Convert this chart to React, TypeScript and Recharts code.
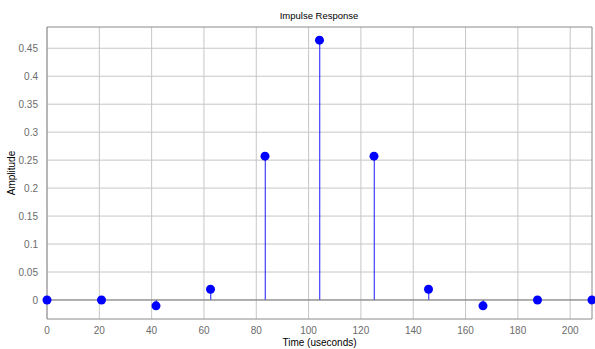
import React from 'react';
import {
  ComposedChart,
  Bar,
  Scatter,
  XAxis,
  YAxis,
  CartesianGrid,
  ReferenceLine,
  ReferenceArea,
} from 'recharts';

// sample times (useconds) and the filter's impulse response
const times = [0, 20.833, 41.667, 62.5, 83.333, 104.167, 125, 145.833, 166.667, 187.5, 208.333];
const amplitudes = [0, 0, -0.0105, 0.0192, 0.2571, 0.4645, 0.2571, 0.0192, -0.0105, 0, 0];

const xTicks = [0, 20, 40, 60, 80, 100, 120, 140, 160, 180, 200];
const yTicks = [0, 0.05, 0.1, 0.15, 0.2, 0.25, 0.3, 0.35, 0.4, 0.45];

const data = times.map((t, i) => ({ t, amp: amplitudes[i] }));

const X_MAX = 208.333;
const Y_MIN = -0.034;
const Y_MAX = 0.488;

const font = '"Liberation Sans", Arial, sans-serif';

const Marker = (props: any) => {
  const { cx, cy } = props;
  if (cx == null || cy == null) return null;
  return <circle cx={cx} cy={cy} r={4.5} fill="#0000ff" />;
};

export default function App() {
  return (
    <div style={{ position: 'absolute', left: 0, top: 0, width: 595, height: 349, background: '#fff' }}>
      <ComposedChart
        width={595}
        height={349}
        data={data}
        margin={{ top: 27, right: 3, bottom: 0, left: 0 }}
      >
        <CartesianGrid stroke="#c6c6c6" strokeWidth={1} horizontalValues={yTicks} verticalValues={xTicks} />
        <XAxis
          dataKey="t"
          type="number"
          domain={[0, X_MAX]}
          ticks={xTicks}
          axisLine={false}
          tickLine={false}
          tick={{ fill: '#6b6b6b', fontSize: 10, fontFamily: font }}
          tickMargin={2}
          height={30}
          label={{
            value: 'Time (useconds)',
            position: 'insideBottom',
            offset: 3,
            fill: '#000',
            fontSize: 10,
            fontFamily: font,
          }}
        />
        <YAxis
          type="number"
          domain={[Y_MIN, Y_MAX]}
          ticks={yTicks}
          allowDataOverflow
          axisLine={false}
          tickLine={false}
          width={47}
          tick={{ fill: '#6b6b6b', fontSize: 10, fontFamily: font }}
          tickMargin={3}
          label={{
            value: 'Amplitude',
            angle: -90,
            position: 'insideLeft',
            offset: 11,
            fill: '#000',
            fontSize: 10,
            fontFamily: font,
            style: { textAnchor: 'middle' },
          }}
        />
        <ReferenceArea
          x1={0}
          x2={X_MAX}
          y1={Y_MIN}
          y2={Y_MAX}
          fill="none"
          stroke="#8a8a8a"
          strokeWidth={1}
          ifOverflow="visible"
        />
        <ReferenceLine y={0} stroke="#7a7a7a" strokeWidth={1} />
        {/* stems: 1px bars from zero up (or down) to each sample */}
        <Bar dataKey="amp" barSize={1} fill="#1a1aff" isAnimationActive={false} />
        <Scatter dataKey="amp" shape={<Marker />} isAnimationActive={false} />
        <text
          x={319}
          y={19}
          textAnchor="middle"
          fontSize={9.5}
          fontFamily={font}
          fill="#000"
        >
          Impulse Response
        </text>
      </ComposedChart>
    </div>
  );
}
